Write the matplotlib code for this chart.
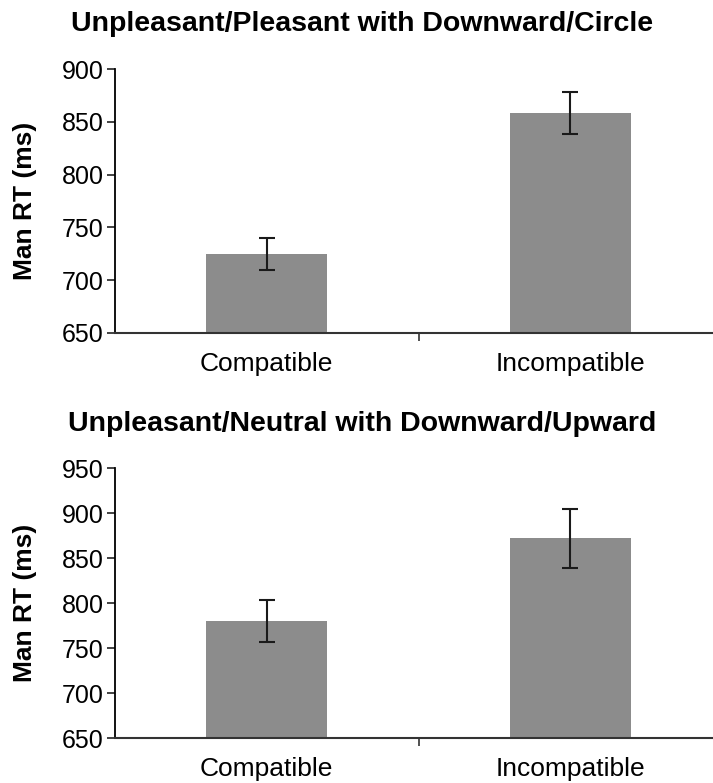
import numpy as np
import matplotlib.pyplot as plt

plt.rcParams['font.family'] = ['Liberation Sans', 'DejaVu Sans']

categories = ["Compatible", "Incompatible"]

# top panel
title1 = "Unpleasant/Pleasant with Downward/Circle"
rt1 = [725, 858]
err1 = [15, 20]
yticks1 = [650, 700, 750, 800, 850, 900]

# bottom panel
title2 = "Unpleasant/Neutral with Downward/Upward"
rt2 = [780, 872]
err2 = [23, 33]
yticks2 = [650, 700, 750, 800, 850, 900, 950]

fig = plt.figure(figsize=(7.13, 7.83), dpi=100)
ax1 = fig.add_axes([115/713, 1-333/783, 598/713, 264/783])
ax2 = fig.add_axes([115/713, 1-738/783, 598/713, 270/783])

def panel(ax, vals, errs, ticks, title, title_y):
    x = np.arange(len(categories))
    ax.bar(x, np.array(vals) - ticks[0], bottom=ticks[0], width=0.4, color='#8c8c8c')
    ax.errorbar(x, vals, yerr=errs, fmt='none', ecolor='#1a1a1a', elinewidth=1.5,
                capsize=6, capthick=1.5)
    ax.set_ylim(ticks[0], ticks[-1])
    ax.set_xlim(-0.5, 1.47)
    ax.set_yticks(ticks)
    ax.set_yticklabels([str(t) for t in ticks], fontsize=18)
    ax.set_xticks(x)
    ax.set_xticklabels(categories, fontsize=19)
    ax.tick_params(axis='x', length=0, pad=14)
    ax.set_xticks([0.5], minor=True)
    ax.tick_params(axis='x', which='minor', length=6, direction='out', width=1.2, color='#333333')
    ax.tick_params(axis='y', length=6, width=1.2, color='#222222', pad=2)
    ax.spines['top'].set_visible(False)
    ax.spines['right'].set_visible(False)
    ax.spines['left'].set_linewidth(1.3)
    ax.spines['bottom'].set_linewidth(1.5)
    ax.spines['bottom'].set_color('#333333')
    ax.set_ylabel("Man RT (ms)", fontsize=19, fontweight='bold')
    ax.yaxis.set_label_coords(-78/598, 0.5)
    fig.text(362/713, 1 - title_y/783, title, fontsize=20.5, fontweight='bold',
             ha='center', va='center')

panel(ax1, rt1, err1, yticks1, title1, 24)
panel(ax2, rt2, err2, yticks2, title2, 424)

fig.savefig("out.png", dpi=100)
